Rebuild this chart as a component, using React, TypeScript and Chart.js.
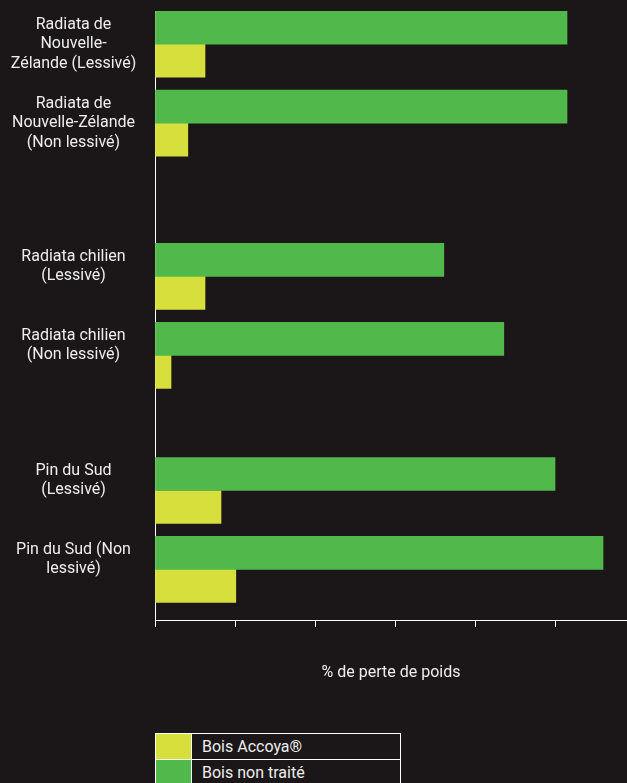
import React, { useEffect, useRef } from 'react';
import { Chart, registerables } from 'chart.js';

Chart.register(...registerables);

// ---- data ----
const categories: string[][] = [
  ['Radiata de', 'Nouvelle-', 'Zélande (Lessivé)'],
  ['Radiata de', 'Nouvelle-Zélande', '(Non lessivé)'],
  ['Radiata chilien', '(Lessivé)', ''],
  ['Radiata chilien', '(Non lessivé)', ''],
  ['Pin du Sud', '(Lessivé)', ''],
  ['Pin du Sud (Non', 'lessivé)', ''],
];
const rowPositions: number[] = [0, 1, 2.94, 3.94, 5.65, 6.65];
const untreated: number[] = [51.5, 51.5, 36.1, 43.6, 50, 56];
const accoya: number[] = [6.25, 4.1, 6.25, 2, 8.25, 10.1];
const xTicks: number[] = [0, 10, 20, 30, 40, 50];
const seriesNames: string[] = ['Bois Accoya®', 'Bois non traité'];
const axisTitle = '% de perte de poids';

// ---- style ----
const BG = '#1b1718';
const GREEN = '#51b94b';
const YELLOW = '#d7df3d';
const TEXT = '#eeeeee';
const FONT_FAMILY = 'Roboto';
const FONT_SIZE = 16;

export default function App() {
  const canvasRef = useRef<HTMLCanvasElement | null>(null);

  useEffect(() => {
    document.body.style.margin = '0';
    document.body.style.background = BG;
    const canvas = canvasRef.current;
    if (!canvas) return;

    const mctx = document.createElement('canvas').getContext('2d')!;
    mctx.font = `${FONT_SIZE}px ${FONT_FAMILY}`;
    let widest = 0;
    categories.forEach((lines) =>
      lines.forEach((l) => {
        widest = Math.max(widest, mctx.measureText(l).width);
      })
    );
    const labelCenter = 73.5;
    const gutter = 155;
    const labelPad = Math.max(0, gutter - labelCenter - widest / 2);

    const chart = new Chart(canvas, {
      type: 'bar',
      data: {
        datasets: [
          {
            label: seriesNames[1],
            data: untreated.map((v, i) => ({ x: v, y: rowPositions[i] })),
            backgroundColor: GREEN,
            barThickness: 33,
          },
          {
            label: seriesNames[0],
            data: accoya.map((v, i) => ({ x: v, y: rowPositions[i] })),
            backgroundColor: YELLOW,
            barThickness: 33,
          },
        ],
      },
      options: {
        indexAxis: 'y',
        responsive: false,
        animation: false,
        devicePixelRatio: 1,
        layout: { padding: { top: 11, right: 0, bottom: 0, left: 0 } },
        plugins: { legend: { display: false }, tooltip: { enabled: false } },
        scales: {
          y: {
            type: 'linear',
            reverse: true,
            offset: false,
            min: -0.42,
            max: 7.29,
            afterBuildTicks: (s: any) => {
              s.ticks = rowPositions.map((v) => ({ value: v }));
            },
            afterFit: (s: any) => {
              s.width = gutter;
              s.paddingTop = 0;
              s.paddingBottom = 0;
            },
            ticks: {
              autoSkip: false,
              crossAlign: 'center',
              padding: labelPad,
              color: TEXT,
              font: { family: FONT_FAMILY, size: FONT_SIZE, lineHeight: 1.22 },
              callback: (_v: any, i: number) => categories[i],
            },
            grid: { display: false, drawTicks: false, offset: false },
            border: { display: true, color: '#ffffff', width: 1 },
          },
          x: {
            type: 'linear',
            min: 0,
            max: 59,
            afterBuildTicks: (s: any) => {
              s.ticks = xTicks.map((v) => ({ value: v }));
            },
            afterFit: (s: any) => {
              s.height = 80;
              s.paddingLeft = 0;
              s.paddingRight = 0;
            },
            ticks: { display: false },
            grid: {
              drawOnChartArea: false,
              drawTicks: true,
              tickLength: 7,
              color: '#ffffff',
              lineWidth: 1,
            },
            border: { display: true, color: '#ffffff', width: 1 },
            title: {
              display: true,
              text: axisTitle,
              color: TEXT,
              font: { family: FONT_FAMILY, size: FONT_SIZE, lineHeight: 1.2 },
              padding: { top: 36, bottom: 17 },
            },
          },
        },
      },
    } as any);

    return () => chart.destroy();
  }, []);

  const cell: React.CSSProperties = {
    border: '1px solid #ffffff',
    height: 25,
    padding: 0,
  };

  return (
    <div
      style={{
        position: 'relative',
        width: 627,
        height: 783,
        background: BG,
        overflow: 'hidden',
      }}
    >
      <canvas ref={canvasRef} width={627} height={700} style={{ display: 'block' }} />
      <table
        style={{
          position: 'absolute',
          left: 155,
          top: 733,
          width: 246,
          borderCollapse: 'collapse',
          fontFamily: FONT_FAMILY,
          fontSize: FONT_SIZE,
          color: TEXT,
        }}
      >
        <tbody>
          {[YELLOW, GREEN].map((c, i) => (
            <tr key={i}>
              <td style={{ ...cell, width: 35, background: c }} />
              <td style={{ ...cell, paddingLeft: 10, lineHeight: '25px' }}>{seriesNames[i]}</td>
            </tr>
          ))}
        </tbody>
      </table>
    </div>
  );
}
